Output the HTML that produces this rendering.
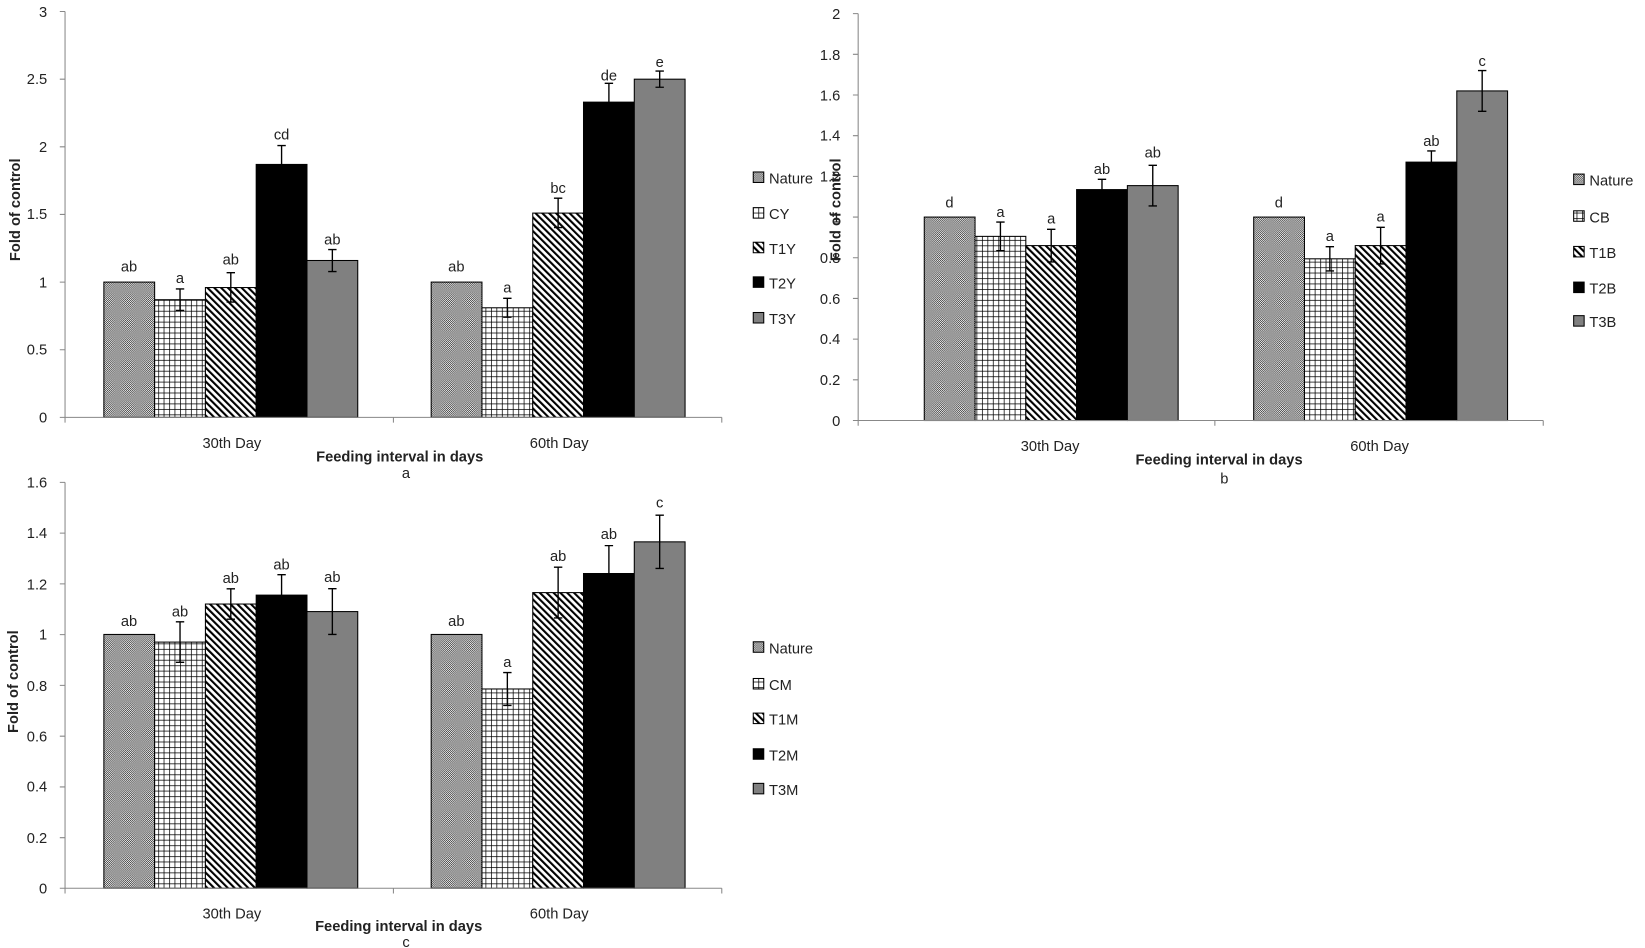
<!DOCTYPE html>
<html><head><meta charset="utf-8"><style>html,body{margin:0;padding:0;background:#fff}svg{display:block}text{font-family:"Liberation Sans",sans-serif;fill:#222}</style></head><body>
<svg width="1645" height="948" viewBox="0 0 1568 904" preserveAspectRatio="none" xmlns="http://www.w3.org/2000/svg">
<defs>
<pattern id="dot" width="2" height="2" patternUnits="userSpaceOnUse"><rect width="2" height="2" fill="#fff"/><rect width="1" height="1" fill="#333"/><rect x="1" y="1" width="1" height="1" fill="#333"/></pattern>
<pattern id="grid" width="5.2" height="5.2" patternUnits="userSpaceOnUse"><rect width="5.2" height="5.2" fill="#fff"/><path d="M0 0H5.2M0 0V5.2" stroke="#000" stroke-width="1.4"/></pattern>
<pattern id="diag" width="4.6" height="4.6" patternUnits="userSpaceOnUse" patternTransform="rotate(-45)"><rect width="4.6" height="4.6" fill="#fff"/><rect width="2" height="4.6" fill="#000"/></pattern>
</defs>
<g stroke="#000" stroke-width="1">
<rect x="99" y="269" width="48.4" height="129" fill="url(#dot)"/>
<rect x="147.4" y="285.8" width="48.4" height="112.2" fill="url(#grid)"/>
<rect x="195.8" y="274.2" width="48.4" height="123.8" fill="url(#diag)"/>
<rect x="244.2" y="156.8" width="48.4" height="241.2" fill="#000"/>
<rect x="292.6" y="248.4" width="48.4" height="149.6" fill="#808080"/>
<rect x="411" y="269" width="48.4" height="129" fill="url(#dot)"/>
<rect x="459.4" y="293.5" width="48.4" height="104.5" fill="url(#grid)"/>
<rect x="507.8" y="203.2" width="48.4" height="194.8" fill="url(#diag)"/>
<rect x="556.2" y="97.4" width="48.4" height="300.6" fill="#000"/>
<rect x="604.6" y="75.5" width="48.4" height="322.5" fill="#808080"/>
<rect x="881" y="207" width="48.4" height="194" fill="url(#dot)"/>
<rect x="929.4" y="225.4" width="48.4" height="175.6" fill="url(#grid)"/>
<rect x="977.8" y="234.2" width="48.4" height="166.8" fill="url(#diag)"/>
<rect x="1026.2" y="180.8" width="48.4" height="220.2" fill="#000"/>
<rect x="1074.6" y="177" width="48.4" height="224" fill="#808080"/>
<rect x="1195" y="207" width="48.4" height="194" fill="url(#dot)"/>
<rect x="1243.4" y="246.8" width="48.4" height="154.2" fill="url(#grid)"/>
<rect x="1291.8" y="234.2" width="48.4" height="166.8" fill="url(#diag)"/>
<rect x="1340.2" y="154.6" width="48.4" height="246.4" fill="#000"/>
<rect x="1388.6" y="86.7" width="48.4" height="314.3" fill="#808080"/>
<rect x="99" y="605" width="48.4" height="242" fill="url(#dot)"/>
<rect x="147.4" y="612.3" width="48.4" height="234.7" fill="url(#grid)"/>
<rect x="195.8" y="576" width="48.4" height="271" fill="url(#diag)"/>
<rect x="244.2" y="567.5" width="48.4" height="279.5" fill="#000"/>
<rect x="292.6" y="583.2" width="48.4" height="263.8" fill="#808080"/>
<rect x="411" y="605" width="48.4" height="242" fill="url(#dot)"/>
<rect x="459.4" y="657" width="48.4" height="190" fill="url(#grid)"/>
<rect x="507.8" y="565.1" width="48.4" height="281.9" fill="url(#diag)"/>
<rect x="556.2" y="546.9" width="48.4" height="300.1" fill="#000"/>
<rect x="604.6" y="516.7" width="48.4" height="330.3" fill="#808080"/>
</g>
<g stroke="#000" stroke-width="1.3" fill="none">
<path d="M171.6 275.5V296M167.6 275.5h8M167.6 296h8"/>
<path d="M220 260V288M216 260h8M216 288h8"/>
<path d="M268.4 138.8V174.8M264.4 138.8h8M264.4 174.8h8"/>
<path d="M316.8 238V259M312.8 238h8M312.8 259h8"/>
<path d="M483.6 284.5V302.5M479.6 284.5h8M479.6 302.5h8"/>
<path d="M532 189V217M528 189h8M528 217h8"/>
<path d="M580.4 79.4V115.5M576.4 79.4h8M576.4 115.5h8"/>
<path d="M628.8 67.8V83.2M624.8 67.8h8M624.8 83.2h8"/>
<path d="M953.6 211.8V239M949.6 211.8h8M949.6 239h8"/>
<path d="M1002 218.7V249.8M998 218.7h8M998 249.8h8"/>
<path d="M1050.4 171V190.5M1046.4 171h8M1046.4 190.5h8"/>
<path d="M1098.8 157.6V196.4M1094.8 157.6h8M1094.8 196.4h8"/>
<path d="M1267.6 235.2V258.4M1263.6 235.2h8M1263.6 258.4h8"/>
<path d="M1316 216.8V251.7M1312 216.8h8M1312 251.7h8"/>
<path d="M1364.4 143.9V165.3M1360.4 143.9h8M1360.4 165.3h8"/>
<path d="M1412.8 67.3V106.1M1408.8 67.3h8M1408.8 106.1h8"/>
<path d="M171.6 593V631.6M167.6 593h8M167.6 631.6h8"/>
<path d="M220 561.5V590.5M216 561.5h8M216 590.5h8"/>
<path d="M268.4 548V587M264.4 548h8M264.4 587h8"/>
<path d="M316.8 561.4V605M312.8 561.4h8M312.8 605h8"/>
<path d="M483.6 641.3V672.7M479.6 641.3h8M479.6 672.7h8"/>
<path d="M532 540.9V589.3M528 540.9h8M528 589.3h8"/>
<path d="M580.4 520.3V573.5M576.4 520.3h8M576.4 573.5h8"/>
<path d="M628.8 491.3V542.1M624.8 491.3h8M624.8 542.1h8"/>
</g>
<g stroke="#888" stroke-width="1" fill="none">
<path d="M62 11V398H688M57 11h5M57 75.5h5M57 140h5M57 204.5h5M57 269h5M57 333.5h5M57 398h5M62 398v5M375 398v5M688 398v5"/>
<path d="M818 13V401H1471M813 13h5M813 51.8h5M813 90.6h5M813 129.4h5M813 168.2h5M813 207h5M813 245.8h5M813 284.6h5M813 323.4h5M813 362.2h5M813 401h5M818 401v5M1158 401v5M1471 401v5"/>
<path d="M62 460V847H688M57 460h5M57 508.4h5M57 556.8h5M57 605.2h5M57 653.6h5M57 702h5M57 750.4h5M57 798.8h5M57 847h5M62 847v5M375 847v5M688 847v5"/>
</g>
<g font-size="14" text-anchor="end">
<text x="45" y="16">3</text><text x="45" y="80">2.5</text><text x="45" y="145">2</text><text x="45" y="209">1.5</text><text x="45" y="274">1</text><text x="45" y="338">0.5</text><text x="45" y="403">0</text>
<text x="801" y="18">2</text><text x="801" y="57">1.8</text><text x="801" y="96">1.6</text><text x="801" y="134">1.4</text><text x="801" y="173">1.2</text><text x="801" y="212">1</text><text x="801" y="251">0.8</text><text x="801" y="290">0.6</text><text x="801" y="328">0.4</text><text x="801" y="367">0.2</text><text x="801" y="406">0</text>
<text x="45" y="465">1.6</text><text x="45" y="513">1.4</text><text x="45" y="562">1.2</text><text x="45" y="610">1</text><text x="45" y="659">0.8</text><text x="45" y="707">0.6</text><text x="45" y="755">0.4</text><text x="45" y="804">0.2</text><text x="45" y="852">0</text>
</g>
<g font-size="14" text-anchor="middle">
<text x="123" y="259">ab</text><text x="171.6" y="270">a</text><text x="220" y="252">ab</text><text x="268.4" y="133">cd</text><text x="316.8" y="233">ab</text>
<text x="435" y="259">ab</text><text x="483.6" y="279">a</text><text x="532" y="184">bc</text><text x="580.4" y="77">de</text><text x="628.8" y="64">e</text>
<text x="905" y="198">d</text><text x="953.6" y="207">a</text><text x="1002" y="213">a</text><text x="1050.4" y="166">ab</text><text x="1098.8" y="150">ab</text>
<text x="1219" y="198">d</text><text x="1267.6" y="230">a</text><text x="1316" y="211">a</text><text x="1364.4" y="139">ab</text><text x="1412.8" y="63">c</text>
<text x="123" y="597">ab</text><text x="171.6" y="588">ab</text><text x="220" y="556">ab</text><text x="268.4" y="543">ab</text><text x="316.8" y="555">ab</text>
<text x="435" y="597">ab</text><text x="483.6" y="636">a</text><text x="532" y="535">ab</text><text x="580.4" y="514">ab</text><text x="628.8" y="484">c</text>
<text x="221" y="427">30th Day</text><text x="533" y="427">60th Day</text><text x="1001" y="430">30th Day</text><text x="1315" y="430">60th Day</text>
<text x="221" y="876">30th Day</text><text x="533" y="876">60th Day</text>
<text x="381" y="440" font-weight="bold">Feeding interval in days</text><text x="387" y="456">a</text>
<text x="1162" y="443" font-weight="bold">Feeding interval in days</text><text x="1167" y="461">b</text>
<text x="380" y="888" font-weight="bold">Feeding interval in days</text><text x="387" y="903">c</text>
<text transform="translate(19 200) rotate(-90)" font-weight="bold">Fold of control</text>
<text transform="translate(801 200) rotate(-90)" font-weight="bold">Fold of control</text>
<text transform="translate(17 650) rotate(-90)" font-weight="bold">Fold of control</text>
</g>
<g stroke="#000" stroke-width="1">
<rect x="718" y="164" width="10" height="10" fill="url(#dot)"/><rect x="718" y="198" width="10" height="10" fill="url(#grid)"/><rect x="718" y="231" width="10" height="10" fill="url(#diag)"/><rect x="718" y="264" width="10" height="10" fill="#000"/><rect x="718" y="298" width="10" height="10" fill="#808080"/>
<rect x="1500" y="166" width="10" height="10" fill="url(#dot)"/><rect x="1500" y="201" width="10" height="10" fill="url(#grid)"/><rect x="1500" y="235" width="10" height="10" fill="url(#diag)"/><rect x="1500" y="269" width="10" height="10" fill="#000"/><rect x="1500" y="301" width="10" height="10" fill="#808080"/>
<rect x="718" y="612" width="10" height="10" fill="url(#dot)"/><rect x="718" y="647" width="10" height="10" fill="url(#grid)"/><rect x="718" y="680" width="10" height="10" fill="url(#diag)"/><rect x="718" y="714" width="10" height="10" fill="#000"/><rect x="718" y="747" width="10" height="10" fill="#808080"/>
</g>
<g font-size="14">
<text x="733" y="175">Nature</text><text x="733" y="209">CY</text><text x="733" y="242">T1Y</text><text x="733" y="275">T2Y</text><text x="733" y="309">T3Y</text>
<text x="1515" y="177">Nature</text><text x="1515" y="212">CB</text><text x="1515" y="246">T1B</text><text x="1515" y="280">T2B</text><text x="1515" y="312">T3B</text>
<text x="733" y="623">Nature</text><text x="733" y="658">CM</text><text x="733" y="691">T1M</text><text x="733" y="725">T2M</text><text x="733" y="758">T3M</text>
</g>
</svg>
</body></html>
